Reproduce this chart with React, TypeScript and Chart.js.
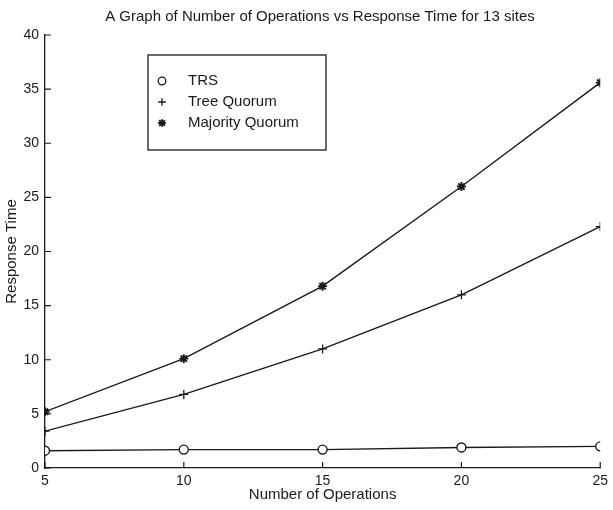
import { useEffect, useRef } from 'react';
import { Chart, registerables } from 'chart.js';

Chart.register(...registerables);

// Response time measurements for 13 sites
const operations = [5, 10, 15, 20, 25];
const trsTimes = [1.6, 1.7, 1.7, 1.9, 2.0];
const treeQuorumTimes = [3.4, 6.8, 11.0, 16.0, 22.3];
const majorityQuorumTimes = [5.2, 10.1, 16.8, 26.0, 35.6];

const seriesNames = ['TRS', 'Tree Quorum', 'Majority Quorum'];
const seriesMarkers = ['circle', 'cross', 'star'];

const chartTitle = 'A Graph of Number of Operations vs Response Time for 13 sites';
const xAxisTitle = 'Number of Operations';
const yAxisTitle = 'Response Time';

const INK = '#1a1a1a';
const FONT = '"Liberation Sans", Arial, Helvetica, sans-serif';

function drawMarker(ctx: CanvasRenderingContext2D, style: string, x: number, y: number, r: number) {
  ctx.beginPath();
  if (style === 'circle') {
    ctx.arc(x, y, r, 0, Math.PI * 2);
    ctx.fillStyle = '#fff';
    ctx.fill();
  } else if (style === 'cross') {
    ctx.moveTo(x - r, y);
    ctx.lineTo(x + r, y);
    ctx.moveTo(x, y - r);
    ctx.lineTo(x, y + r);
  } else {
    const d = r * 0.75;
    ctx.moveTo(x - r, y);
    ctx.lineTo(x + r, y);
    ctx.moveTo(x, y - r);
    ctx.lineTo(x, y + r);
    ctx.moveTo(x - d, y - d);
    ctx.lineTo(x + d, y + d);
    ctx.moveTo(x - d, y + d);
    ctx.lineTo(x + d, y - d);
  }
  ctx.stroke();
}

// Title, inward tick marks and the boxed legend
const decorations = {
  id: 'decorations',
  afterDraw(chart: any) {
    const ctx: CanvasRenderingContext2D = chart.ctx;
    const { x, y } = chart.scales;
    const area = chart.chartArea;
    ctx.save();
    ctx.strokeStyle = INK;
    ctx.fillStyle = INK;
    ctx.lineWidth = 1.2;

    // title
    ctx.font = `15px ${FONT}`;
    ctx.textAlign = 'center';
    ctx.textBaseline = 'middle';
    ctx.fillText(chartTitle, 320, 17);

    // inward ticks
    ctx.beginPath();
    x.ticks.forEach((t: any) => {
      const px = x.getPixelForValue(t.value);
      ctx.moveTo(px, area.bottom);
      ctx.lineTo(px, area.bottom - 6);
    });
    y.ticks.forEach((t: any) => {
      const py = y.getPixelForValue(t.value);
      ctx.moveTo(area.left, py);
      ctx.lineTo(area.left + 6, py);
    });
    ctx.stroke();

    // legend
    const bx = 148;
    const by = 55;
    const bw = 178;
    const bh = 95;
    ctx.lineWidth = 1.3;
    ctx.strokeRect(bx, by, bw, bh);
    ctx.font = `15px ${FONT}`;
    ctx.textAlign = 'left';
    ctx.textBaseline = 'middle';
    seriesNames.forEach((name, i) => {
      const ly = by + 26 + i * 21;
      ctx.lineWidth = i === 2 ? 1.8 : 1.3;
      drawMarker(ctx, seriesMarkers[i], bx + 14, ly, 3.8);
      ctx.fillStyle = INK;
      ctx.fillText(name, bx + 40, ly);
    });
    ctx.restore();
  },
};

export default function App() {
  const canvasRef = useRef<HTMLCanvasElement | null>(null);

  useEffect(() => {
    if (!canvasRef.current) return;
    const makeSeries = (label: string, values: number[], marker: string, width: number) => ({
      label,
      data: operations.map((op, i) => ({ x: op, y: values[i] })),
      borderColor: INK,
      borderWidth: 1.4,
      pointStyle: marker as any,
      pointRadius: 4.5,
      pointBorderWidth: width,
      pointBorderColor: INK,
      pointBackgroundColor: '#fff',
      tension: 0,
      fill: false,
    });

    const chart = new Chart(canvasRef.current, {
      type: 'line',
      data: {
        datasets: [
          makeSeries(seriesNames[0], trsTimes, seriesMarkers[0], 1.4),
          makeSeries(seriesNames[1], treeQuorumTimes, seriesMarkers[1], 1.3),
          makeSeries(seriesNames[2], majorityQuorumTimes, seriesMarkers[2], 1.9),
        ],
      },
      options: {
        responsive: false,
        animation: false,
        layout: { padding: { top: 35, left: 0, right: 10, bottom: 0 } },
        plugins: {
          legend: { display: false },
          title: { display: false },
          tooltip: { enabled: false },
        },
        scales: {
          x: {
            type: 'linear',
            min: 5,
            max: 25,
            grid: { display: true, drawOnChartArea: false, drawTicks: false },
            border: { display: true, color: INK, width: 1.3 },
            ticks: {
              stepSize: 5,
              padding: 5,
              color: INK,
              font: { family: FONT, size: 14 },
            },
            title: {
              display: true,
              text: xAxisTitle,
              color: INK,
              font: { family: FONT, size: 15 },
              padding: { top: 0, bottom: 6 },
            },
            afterFit: (s: any) => {
              s.height = 42;
            },
          },
          y: {
            min: 0,
            max: 40,
            grid: { display: true, drawOnChartArea: false, drawTicks: false },
            border: { display: true, color: INK, width: 1.3 },
            ticks: {
              stepSize: 5,
              padding: 6,
              color: INK,
              font: { family: FONT, size: 14 },
            },
            title: {
              display: true,
              text: yAxisTitle,
              color: INK,
              font: { family: FONT, size: 15 },
              padding: { top: 3, bottom: 0 },
            },
            afterFit: (s: any) => {
              s.width = 45;
            },
          },
        },
      },
      plugins: [decorations],
    });
    return () => chart.destroy();
  }, []);

  return (
    <div style={{ position: 'fixed', left: 0, top: 0, width: 613, height: 510, background: '#fff' }}>
      <canvas ref={canvasRef} width={613} height={510} />
    </div>
  );
}
